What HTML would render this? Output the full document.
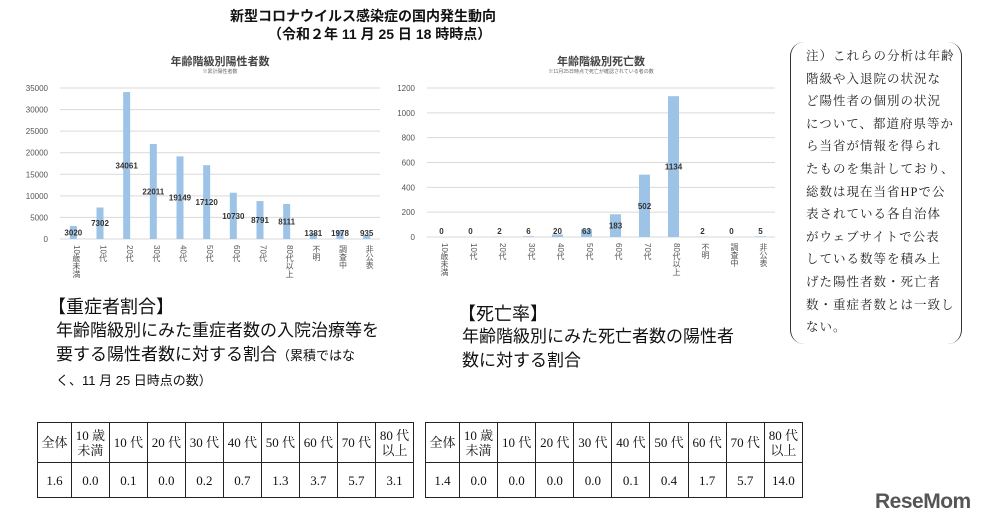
<!DOCTYPE html>
<html><head><meta charset="utf-8"><style>
body{margin:0;width:989px;height:527px;background:#fff;position:relative;overflow:hidden;font-family:"Liberation Sans","Noto Sans CJK JP",sans-serif;color:#111}
.abs{position:absolute}
.serif{font-family:"Liberation Serif","Noto Serif CJK SC",serif}
table{border-collapse:collapse;position:absolute;font-family:"Liberation Serif","Noto Serif CJK SC",serif;font-size:13px}
td{border:1px solid #222;text-align:center;padding:0;line-height:15px}
</style></head><body>
<div class="abs" style="left:230px;top:6px;font-weight:bold;font-size:14px;">新型コロナウイルス感染症の国内発生動向</div>
<div class="abs" style="left:268px;top:24px;font-weight:bold;font-size:14px;">（令和２年 11 月 25 日 18 時時点）</div>

<svg class="abs" style="left:0;top:0" width="989" height="300">
<g id="c1"></g>
<g id="c2"></g>
</svg>

<div class="abs" style="left:790px;top:42px;width:170px;height:302px;border-left:1.5px solid #333;border-right:1.5px solid #333;border-radius:14px;"></div>
<div class="abs serif" style="left:806px;top:45px;width:150px;font-size:12.5px;line-height:22.6px;letter-spacing:1px;color:#222;white-space:nowrap">注）これらの分析は年齢<br>階級や入退院の状況な<br>ど陽性者の個別の状況<br>について、都道府県等か<br>ら当省が情報を得られ<br>たものを集計しており、<br>総数は現在当省HPで公<br>表されている各自治体<br>がウェブサイトで公表<br>している数等を積み上<br>げた陽性者数・死亡者<br>数・重症者数とは一致し<br>ない。</div>

<div class="abs" style="left:48px;top:293px;font-size:18px">【重症者割合】</div>
<div class="abs" style="left:56px;top:319px;font-size:17px;line-height:24px;width:360px">年齢階級別にみた重症者数の入院治療等を<br>要する陽性者数に対する割合<span style="font-size:13px">（累積ではな</span><br><span style="font-size:13px">く、11 月 25 日時点の数）</span></div>
<div class="abs" style="left:458px;top:300px;font-size:18px">【死亡率】</div>
<div class="abs" style="left:462px;top:325px;font-size:17px;line-height:24px">年齢階級別にみた死亡者数の陽性者<br>数に対する割合</div>

<table style="left:37px;top:422px;width:377px;height:76px">
<tr style="height:40px"><td>全体</td><td>10 歳<br>未満</td><td>10 代</td><td>20 代</td><td>30 代</td><td>40 代</td><td>50 代</td><td>60 代</td><td>70 代</td><td>80 代<br>以上</td></tr>
<tr><td>1.6</td><td>0.0</td><td>0.1</td><td>0.0</td><td>0.2</td><td>0.7</td><td>1.3</td><td>3.7</td><td>5.7</td><td>3.1</td></tr></table>
<table style="left:425px;top:422px;width:378px;height:76px">
<tr style="height:40px"><td>全体</td><td>10 歳<br>未満</td><td>10 代</td><td>20 代</td><td>30 代</td><td>40 代</td><td>50 代</td><td>60 代</td><td>70 代</td><td>80 代<br>以上</td></tr>
<tr><td>1.4</td><td>0.0</td><td>0.0</td><td>0.0</td><td>0.0</td><td>0.1</td><td>0.4</td><td>1.7</td><td>5.7</td><td>14.0</td></tr></table>

<div class="abs" style="left:875px;top:490px;font-weight:bold;font-size:21px;color:#555;letter-spacing:-0.5px">ReseMom</div>

<script>
const categories=['10歳未満','10代','20代','30代','40代','50代','60代','70代','80代以上','不明','調査中','非公表'];
const positives=[3020,7302,34061,22011,19149,17120,10730,8791,8111,1381,1978,935];
const deaths=[0,0,2,6,20,63,183,502,1134,2,0,5];
const ticks1=[0,5000,10000,15000,20000,25000,30000,35000];
const ticks2=[0,200,400,600,800,1000,1200];
const NS='http://www.w3.org/2000/svg';
function mk(g,t,a,txt){const e=document.createElementNS(NS,t);for(const k in a)e.setAttribute(k,a[k]);if(txt!==undefined)e.textContent=txt;g.appendChild(e);return e;}
function draw(gid,vals,ticks,o){
 const g=document.getElementById(gid);
 const y=v=>o.y0-(v/o.max)*(o.y0-o.yTop);
 const bw=(o.x1-o.x0)/categories.length;
 const x=i=>o.x0+bw*(i+0.5);
 let t=mk(g,'text',{x:(o.x0+o.x1)/2,y:o.titleY,'text-anchor':'middle','font-size':11,'font-weight':'bold',fill:'#444'},o.title);
 
 t=mk(g,'text',{x:(o.x0+o.x1)/2,y:o.titleY+8,'text-anchor':'middle','font-size':5,fill:'#666'},o.sub);
 
 ticks.forEach(v=>{
  const l=mk(g,'line',{x1:o.x0,x2:o.x1,y1:y(v),y2:y(v),stroke:'#d9d9d9','stroke-width':1});
  
  const tx=mk(g,'text',{x:o.x0-12,y:y(v)+3,'text-anchor':'end','font-size':8,fill:'#555'},v);
  
 });
 vals.forEach((v,i)=>{
  const r=mk(g,'rect',{x:x(i)-o.bw/2,y:y(v),width:o.bw,height:o.y0-y(v),fill:'#9dc3e6'});
  
  const ly=o.mid?(y(v)+(o.y0-y(v))/2+3):(y(v)-3);
  const lab=mk(g,'text',{x:x(i),y:Math.min(ly,o.y0-3),'text-anchor':'middle','font-size':8,'font-weight':'bold',fill:'#333'},v);
  
  const c=mk(g,'text',{x:x(i)+3,y:o.y0+6,'font-size':8,fill:'#555',style:'writing-mode:vertical-rl;text-orientation:mixed'},categories[i]);
  
 });
}
draw('c1',positives,ticks1,{x0:60,x1:380,y0:239,yTop:88,max:35000,bw:7,mid:true,titleY:65,title:'年齢階級別陽性者数',sub:'※累計陽性者数'});
draw('c2',deaths,ticks2,{x0:427,x1:775,y0:237,yTop:88,max:1200,bw:11,mid:true,titleY:65,title:'年齢階級別死亡数',sub:'※11月25日時点で死亡が確認されている者の数'});
</script>
</body></html>
